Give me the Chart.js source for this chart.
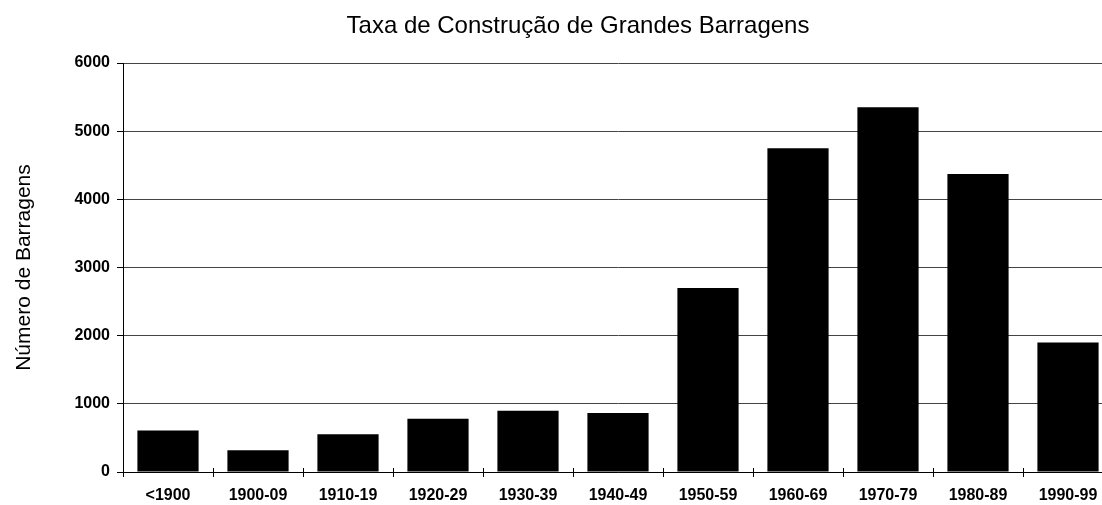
<!DOCTYPE html>
<html>
<head>
<meta charset="utf-8">
<script src="https://cdn.jsdelivr.net/npm/chart.js@4/dist/chart.umd.min.js"></script>
<style>
  html, body { margin: 0; padding: 0; background: #fff; overflow: hidden; }
  canvas { display: block; }
</style>
</head>
<body>
<canvas id="chart" width="1113" height="505"></canvas>
<script>
const TITLE = 'Taxa de Construção de Grandes Barragens';
const Y_TITLE = 'Número de Barragens';

const decades = ['<1900', '1900-09', '1910-19', '1920-29', '1930-39', '1940-49',
  '1950-59', '1960-69', '1970-79', '1980-89', '1990-99'];
const dams = [610, 320, 555, 780, 900, 865, 2700, 4750, 5350, 4370, 1900];
const yTicks = [0, 1000, 2000, 3000, 4000, 5000, 6000];

const FONT = '"Liberation Sans", Arial, Helvetica, sans-serif';

// title drawn by hand so it can sit off the canvas centre like the scan
const titlePlugin = {
  id: 'pageTitle',
  afterDraw(chart) {
    const ctx = chart.ctx;
    ctx.save();
    ctx.font = '24px ' + FONT;
    ctx.fillStyle = '#000';
    ctx.textAlign = 'center';
    ctx.textBaseline = 'alphabetic';
    ctx.fillText(TITLE, 578, 33);
    ctx.restore();
  },
};

// small tick marks poking up above the x axis at category borders
const tickUp = {
  id: 'tickUp',
  afterDatasetsDraw(chart) {
    const { ctx } = chart;
    const x = chart.scales.x;
    const base = chart.scales.y.getPixelForValue(0);
    const step = x.getPixelForValue(1) - x.getPixelForValue(0);
    ctx.save();
    ctx.strokeStyle = '#000';
    ctx.lineWidth = 1;
    ctx.beginPath();
    for (let i = 1; i < decades.length; i++) {
      const px = Math.round(x.getPixelForValue(i) - step / 2) + 0.5;
      ctx.moveTo(px, base - 4);
      ctx.lineTo(px, base);
    }
    ctx.stroke();
    ctx.restore();
  },
};

new Chart(document.getElementById('chart'), {
  type: 'bar',
  data: {
    labels: decades,
    datasets: [{
      data: dams,
      backgroundColor: '#000',
      borderWidth: 0,
      categoryPercentage: 1,
      barPercentage: 0.68,
    }],
  },
  options: {
    responsive: false,
    animation: false,
    layout: { padding: { top: 63, left: 0, right: 0, bottom: 0 } },
    plugins: {
      legend: { display: false },
      tooltip: { enabled: false },
      title: { display: false },
    },
    scales: {
      x: {
        afterFit(scale) { scale.height = 33; },
        grid: {
          display: true,
          drawOnChartArea: false,
          tickLength: 5,
          color: '#000',
        },
        border: { color: '#000', width: 1 },
        ticks: {
          color: '#000',
          padding: 9,
          maxRotation: 0,
          autoSkip: false,
          font: { family: FONT, size: 16, weight: 'bold' },
        },
      },
      y: {
        min: 0,
        max: 6000,
        afterFit(scale) { scale.width = 123; },
        afterBuildTicks(scale) { scale.ticks = yTicks.map(v => ({ value: v })); },
        grid: {
          color: '#444',
          lineWidth: 1,
          tickLength: 6,
          tickColor: '#000',
        },
        border: { color: '#000', width: 1 },
        ticks: {
          color: '#000',
          padding: 7,
          callback: v => String(v),
          font: { family: FONT, size: 16, weight: 'bold' },
        },
        title: {
          display: true,
          text: Y_TITLE,
          color: '#000',
          padding: { top: 12, bottom: 0 },
          font: { family: FONT, size: 21 },
        },
      },
    },
  },
  plugins: [titlePlugin, tickUp],
});
</script>
</body>
</html>
